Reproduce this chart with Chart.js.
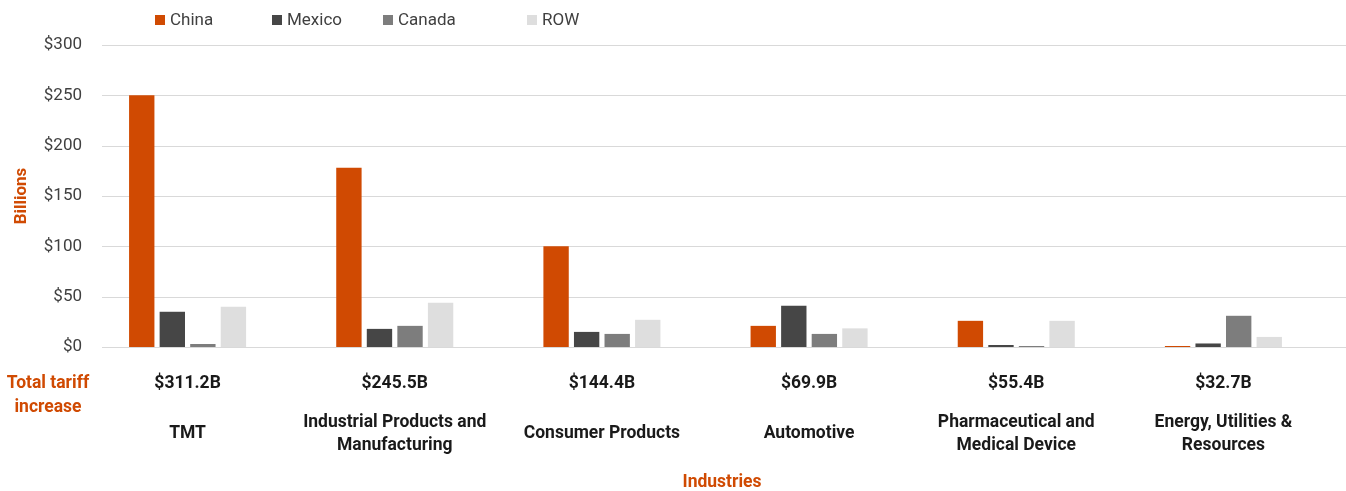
<!DOCTYPE html>
<html>
<head>
<meta charset="utf-8">
<script src="https://cdn.jsdelivr.net/npm/chart.js@4"></script>
<style>
    body { margin: 0; background: #fff; }
    #wrap { position: relative; width: 1346px; height: 491px; }
    #legend { position: absolute; top: 9px; left: 155px; font: 17px Roboto, sans-serif; color: #404040; }
    #legend span.item { position: absolute; white-space: nowrap; }
    #legend span.box { display: inline-block; width: 10px; height: 10px; margin-right: 5px; }
</style>
</head>
<body>
<div id="wrap">
    <canvas id="chart" width="1346" height="491"></canvas>
    <div id="legend"></div>
</div>
<script>
// 数据
const industries = ['TMT', 'Industrial Products and\nManufacturing', 'Consumer Products', 'Automotive', 'Pharmaceutical and\nMedical Device', 'Energy, Utilities &\nResources'];
const totals = ['$311.2B', '$245.5B', '$144.4B', '$69.9B', '$55.4B', '$32.7B'];
const china = [250, 178, 100, 21, 26, 1];
const mexico = [35, 18, 15, 41, 2, 3.5];
const canada = [3, 21, 13, 13, 1, 31];
const row = [40, 44, 27, 18.5, 26, 10];
const yTicks = [0, 50, 100, 150, 200, 250, 300];

const orange = '#D04A02';
const FONT = 'Roboto, sans-serif';

const seriesNames = ['China', 'Mexico', 'Canada', 'ROW'];
const seriesColors = [orange, '#464646', '#7D7D7D', '#DEDEDE'];
const seriesData = [china, mexico, canada, row];

// 网格线和底部文字
const extras = {
    id: 'extras',
    beforeDatasetsDraw(chart) {
        const c = chart.ctx;
        const y = chart.scales.y;
        c.save();
        c.strokeStyle = '#D9D9D9';
        c.lineWidth = 1;
        yTicks.forEach(v => {
            const py = Math.round(y.getPixelForValue(v)) + 0.5;
            c.beginPath();
            c.moveTo(102, py);
            c.lineTo(1346, py);
            c.stroke();
        });
        c.restore();
    },
    afterDraw(chart) {
        const c = chart.ctx;
        const x = chart.scales.x;
        c.save();
        c.textAlign = 'center';
        c.textBaseline = 'middle';
        c.font = 'bold 17.5px ' + FONT;
        c.fillStyle = '#1a1a1a';
        industries.forEach((name, i) => {
            const px = x.getPixelForValue(i);
            c.fillText(totals[i], px, 384);
            const lines = name.split('\n');
            if (lines.length === 1) {
                c.fillText(lines[0], px, 434);
            } else {
                c.fillText(lines[0], px, 423);
                c.fillText(lines[1], px, 446);
            }
        });
        c.fillStyle = orange;
        c.fillText('Total tariff', 48, 384);
        c.fillText('increase', 48, 408);
        c.fillText('Industries', 722, 483);
        c.restore();
    }
};

const ctx = document.getElementById('chart').getContext('2d');
const chart = new Chart(ctx, {
    type: 'bar',
    data: {
        labels: industries,
        datasets: seriesNames.map((n, i) => ({
            label: n,
            data: seriesData[i],
            backgroundColor: seriesColors[i],
            categoryPercentage: 0.59,
            barPercentage: 0.83
        }))
    },
    options: {
        responsive: false,
        animation: false,
        layout: { padding: { top: 45, right: 19, left: 12, bottom: 0 } },
        plugins: {
            legend: { display: false },
            tooltip: { enabled: false }
        },
        scales: {
            x: {
                grid: { display: false },
                border: { display: false },
                ticks: { display: false },
                afterFit(s) { s.height = 144; }
            },
            y: {
                min: 0,
                max: 300,
                afterBuildTicks(s) { s.ticks = yTicks.map(v => ({ value: v })); },
                grid: { display: false, drawTicks: false },
                border: { display: false },
                ticks: {
                    padding: 2,
                    color: '#404040',
                    font: { family: FONT, size: 17 },
                    callback: v => '$' + v
                },
                title: {
                    display: true,
                    text: 'Billions',
                    color: orange,
                    font: { family: FONT, size: 17, weight: 'bold' },
                    padding: { top: 0, bottom: 4 }
                },
                afterFit(s) { s.width = 72; }
            }
        }
    },
    plugins: [extras]
});

// 图例
const legend = document.getElementById('legend');
const legendX = [0, 117, 228, 372];
seriesNames.forEach((n, i) => {
    const item = document.createElement('span');
    item.className = 'item';
    item.style.left = legendX[i] + 'px';
    item.innerHTML = '<span class="box" style="background:' + seriesColors[i] + '"></span>' + n;
    legend.appendChild(item);
});
</script>
</body>
</html>
